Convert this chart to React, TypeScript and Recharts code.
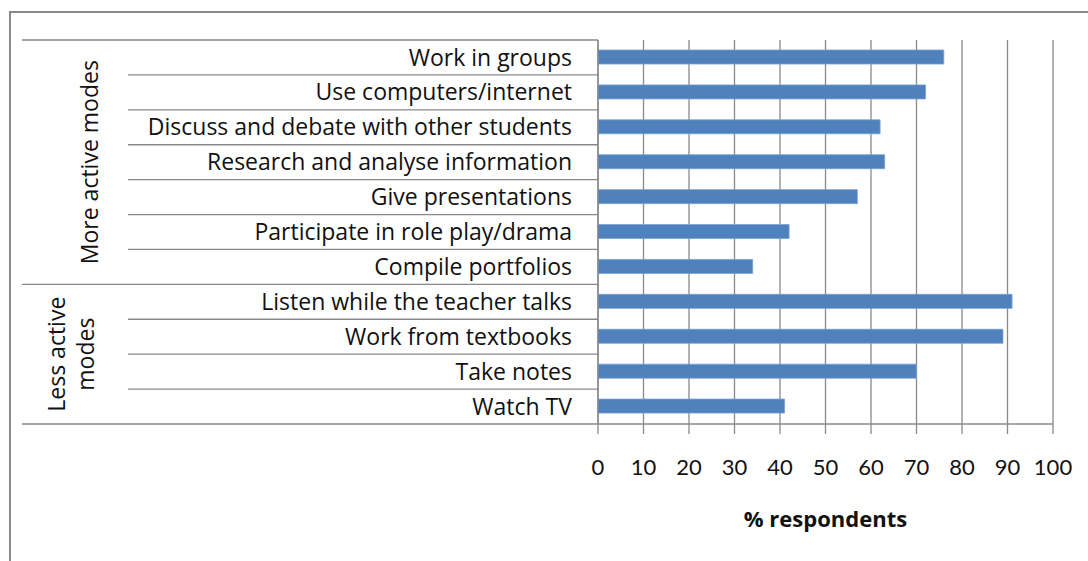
import React from 'react';
import { BarChart, Bar, XAxis, YAxis, CartesianGrid } from 'recharts';

const categories = [
  'Work in groups',
  'Use computers/internet',
  'Discuss and debate with other students',
  'Research and analyse information',
  'Give presentations',
  'Participate in role play/drama',
  'Compile portfolios',
  'Listen while the teacher talks',
  'Work from textbooks',
  'Take notes',
  'Watch TV',
];
const values = [76, 72, 62, 63, 57, 42, 34, 91, 89, 70, 41];
const groups = [
  { lines: ['More active modes'], start: 0, size: 7 },
  { lines: ['Less active', 'modes'], start: 7, size: 4 },
];
const xTicks = [0, 10, 20, 30, 40, 50, 60, 70, 80, 90, 100];

const data = categories.map((name, i) => ({ name, value: values[i] }));

const W = 1088;
const H = 561;
const MARGIN = { top: 40, right: 35, bottom: 37, left: 0 };
const X_AXIS_H = 100;
const Y_AXIS_W = 598;
const PLOT_H = H - MARGIN.top - MARGIN.bottom - X_AXIS_H;
const BAND = PLOT_H / categories.length;
const FONT = '"Open Sans", Lato, sans-serif';
const TICK_FONT = 'Lato, "Open Sans", sans-serif';
const GRID = '#898989';
const OUTER_X = 22;
const INNER_X = 128;
const GROUP_LINE_X = [57, 86];

const groupEnds = new Set(groups.map((g) => g.start + g.size - 1));

const CategoryTick = (props: any) => {
  const { x, y, payload, index } = props;
  const right = Y_AXIS_W;
  const lineY = y + BAND / 2;
  const group = groups.find((g) => g.start === index);
  return (
    <g>
      {index === 0 && (
        <line x1={OUTER_X} x2={right} y1={y - BAND / 2} y2={y - BAND / 2} stroke={GRID} strokeWidth={1.3} />
      )}
      <line
        x1={groupEnds.has(index) ? OUTER_X : INNER_X}
        x2={right}
        y1={lineY}
        y2={lineY}
        stroke={GRID}
        strokeWidth={1.3}
      />
      <text x={x - 24} y={y} dy="0.35em" textAnchor="end" fontFamily={FONT} fontSize={23} fill="#111">
        {payload.value}
      </text>
      {group &&
        group.lines.map((ln, k) => {
          const cy = y - BAND / 2 + (group.size * BAND) / 2;
          const cx = group.lines.length === 1 ? 90 : GROUP_LINE_X[k];
          return (
            <text
              key={k}
              x={cx}
              y={cy}
              dy="0.35em"
              textAnchor="middle"
              transform={`rotate(-90, ${cx}, ${cy})`}
              fontFamily={FONT}
              fontSize={23}
              fill="#111"
            >
              {ln}
            </text>
          );
        })}
    </g>
  );
};

export default function App() {
  return (
    <div style={{ position: 'absolute', left: 0, top: 0, width: W, height: H, overflow: 'hidden', background: '#fff' }}>
      <div
        style={{
          position: 'absolute',
          left: 9,
          top: 11,
          width: 1300,
          height: 800,
          borderLeft: '2px solid #8a8a8a',
          borderTop: '2px solid #8a8a8a',
        }}
      />
      <div style={{ position: 'absolute', left: 0, top: 0 }}>
        <BarChart width={W} height={H} data={data} layout="vertical" margin={MARGIN}>
          <CartesianGrid horizontal={false} vertical={true} stroke={GRID} strokeWidth={1.3} />
          <XAxis
            type="number"
            domain={[0, 100]}
            ticks={xTicks}
            interval={0}
            height={X_AXIS_H}
            tickSize={10}
            tickMargin={25}
            stroke={GRID}
            axisLine={{ stroke: GRID, strokeWidth: 1.3 }}
            tickLine={{ stroke: GRID, strokeWidth: 1.3 }}
            tick={{ fontFamily: TICK_FONT, fontSize: 22, fill: '#111' }}
            label={{
              value: '% respondents',
              position: 'insideBottom',
              offset: -3,
              style: { fontFamily: FONT, fontSize: 22, fontWeight: 700, fill: '#111' },
            }}
          />
          <YAxis
            type="category"
            dataKey="name"
            width={Y_AXIS_W}
            interval={0}
            tickLine={false}
            tickSize={0}
            axisLine={{ stroke: GRID, strokeWidth: 1.3 }}
            tick={<CategoryTick />}
          />
          <Bar dataKey="value" fill="#4F81BD" stroke="#7a9fd0" strokeWidth={0.8} barSize={14} isAnimationActive={false} />
        </BarChart>
      </div>
    </div>
  );
}
